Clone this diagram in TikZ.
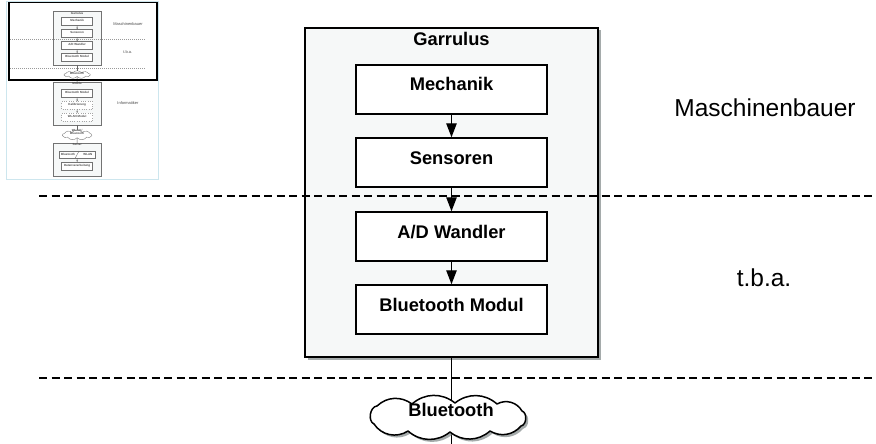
\documentclass[tikz,border=0pt]{standalone}
\usepackage{fontspec}
\setmainfont{Liberation Sans}
\usetikzlibrary{arrows.meta,shapes.symbols,shadows}
\definecolor{boxfill}{HTML}{F6F8F8}
\definecolor{shadowgray}{HTML}{7F8787}
\definecolor{thumbblue}{HTML}{CDE6EE}
\newcommand\bubblepath{(374,424) to[bend left=75] (377,406) to[bend left=40] (412,404)
  to[bend left=40] (455,403) to[bend left=40] (497,404) to[bend left=45] (522,411)
  to[bend left=75] (521,426) to[bend left=40] (490,431) to[bend left=40] (450,432)
  to[bend left=40] (408,431) to[bend left=45] (374,424) -- cycle}
\begin{document}
\begin{tikzpicture}[x=1pt,y=-1pt,
  every node/.style={font=\fontsize{18.3}{22}\selectfont\bfseries},
  outerbox/.style={draw=black, line width=1.7pt, fill=boxfill, minimum width=293pt, inner sep=0pt,
    drop shadow={shadow xshift=2.5pt, shadow yshift=-2.5pt, fill=shadowgray, opacity=0.7}},
  stepbox/.style={draw=black, line width=1.5pt, fill=white, minimum width=191pt, minimum height=49pt,
    inner sep=0pt, text height=13pt, text depth=10pt},
  arr/.style={line width=1.1pt, -{Triangle[length=14pt,width=10.5pt]}},
  conn/.style={line width=1.1pt},
  dashline/.style={line width=1.3pt, dash pattern=on 8pt off 4.5pt},
  lanelabel/.style={font=\fontsize{24.5}{28}\selectfont, anchor=base},
  bubbleline/.style={draw=black, line width=1.5pt, fill=white, line join=round},
  bubbleshadow/.style={fill=shadowgray, opacity=0.7},
  % thumbnail styles
  touter/.style={draw=black!55, line width=0.4pt, fill=boxfill, minimum width=293pt, inner sep=0pt},
  tbox/.style={draw=black!55, line width=0.35pt, fill=white, minimum width=191pt, minimum height=49pt,
    inner sep=0pt, text height=13pt, text depth=10pt, text=black!70},
  tdot/.style={tbox, draw=black!35, dotted},
  tarr/.style={line width=0.35pt, draw=black!60, -{Triangle[length=1.6pt,width=1.3pt]}},
  tconn/.style={line width=0.35pt, draw=black!60},
  tdash/.style={line width=0.35pt, draw=black!40, dash pattern=on 1pt off 1pt},
  ttext/.style={text=black!70, anchor=base},
  tlabel/.style={font=\fontsize{24.5}{28}\selectfont, text=black!70, anchor=base},
  tbubble/.style={cloud, draw=black!55, line width=0.35pt, fill=white, cloud puffs=9, cloud puff arc=100,
    aspect=3.9, minimum width=159pt, minimum height=41pt, inner sep=0pt, text=black!70, align=center,
    text height=3pt, text depth=3pt}
]
\useasboundingbox (0,0) rectangle (876,444);

% ---------------- main diagram ----------------
\node[outerbox, minimum height=329pt] (garrulus) at (451.5,192.5) {};
\node[anchor=base] (gtitle) at (451.5,46) {Garrulus};

\coordinate (d1l) at (39,196);
\coordinate (d1r) at (880,196);
\coordinate (d2l) at (39,378);
\coordinate (d2r) at (880,378);
\draw[dashline] (d1l) -- (d1r);
\draw[dashline] (d2l) -- (d2r);

\node[stepbox] (mech) at (451.5,89.5) {Mechanik};
\node[stepbox] (sens) at (451.5,162.5) {Sensoren};
\node[stepbox] (adw) at (451.5,236.5) {A/D Wandler};
\node[stepbox] (btm) at (451.5,309.5) {Bluetooth Modul};

\draw[arr] (mech) -- (sens);
\draw[arr] (sens) -- (adw);
\draw[arr] (adw) -- (btm);

% cloud with connectors
\coordinate (bc) at (451.5,418);
\coordinate (below) at (451.5,450);
\draw[conn] (garrulus.south) -- (bc) -- (below);
\fill[bubbleshadow, shift={(2.5,2.5)}] \bubblepath;
\draw[bubbleline] \bubblepath;
\node[anchor=base] (bt) at (451,416.7) {Bluetooth};

\node[lanelabel] (lmb) at (765,116.7) {Maschinenbauer};
\node[lanelabel] (ltba) at (764,286.7) {t.b.a.};

% ---------------- thumbnail ----------------
\draw[thumbblue, line width=1pt, fill=white] (6.5,1.5) rectangle (158.5,179.3);
\begin{scope}[shift={(4,7)}, scale=0.162, transform shape]
  \node[touter, minimum height=329pt] (t-garr) at (451.5,192.5) {};
  \node[ttext] (t-gtitle) at (451.5,46) {Garrulus};
  \coordinate (t-d1l) at (39,196);
  \coordinate (t-d1r) at (876,196);
  \coordinate (t-d2l) at (39,378);
  \coordinate (t-d2r) at (876,378);
  \draw[tdash] (t-d1l) -- (t-d1r);
  \draw[tdash] (t-d2l) -- (t-d2r);
  \node[tbox] (t-mech) at (451.5,89.5) {Mechanik};
  \node[tbox] (t-sens) at (451.5,162.5) {Sensoren};
  \node[tbox] (t-adw) at (451.5,236.5) {A/D Wandler};
  \node[tbox] (t-btm) at (451.5,309.5) {Bluetooth Modul};
  \draw[tarr] (t-mech) -- (t-sens);
  \draw[tarr] (t-sens) -- (t-adw);
  \draw[tarr] (t-adw) -- (t-btm);
  \node[tbubble] (t-bt) at (451.5,417.5) {Bluetooth};
  \node[tlabel] (t-lmb) at (765,116.7) {Maschinenbauer};
  \node[tlabel] (t-ltba) at (764,286.7) {t.b.a.};

  \node[touter, minimum height=265pt] (t-mobile) at (451.5,595.5) {};
  \node[ttext] (t-mtitle) at (451.5,480) {Mobile};
  \node[tbox] (t-mbt) at (451.5,534.5) {Bluetooth Modul};
  \node[tdot] (t-kal) at (451.5,607) {Kalibrierung};
  \node[tdot] (t-wlan) at (451.5,679) {WLAN Modul};
  \draw[tarr] (t-mbt) -- (t-kal);
  \draw[tarr] (t-kal) -- (t-wlan);
  \node[tlabel] (t-linf) at (765,604) {Informatiker};

  \node[tbubble, minimum width=179pt, minimum height=62pt] (t-wl) at (451.5,790) {WLAN /\\Bluetooth};

  \node[touter, minimum height=203pt] (t-server) at (451.5,941.5) {};
  \node[ttext] (t-stitle) at (451.5,858) {Server};
  \node[tbox, minimum width=222pt, minimum height=43pt] (t-split) at (451.5,910.5) {};
  \node[ttext] (t-sbt) at (395,915) {Bluetooth};
  \node[ttext] (t-swl) at (518,915) {WLAN};
  \coordinate (t-sl1) at (440,932);
  \coordinate (t-sl2) at (463,889);
  \draw[tconn] (t-sl1) -- (t-sl2);
  \node[tbox] (t-daten) at (451.5,981.5) {Datenverarbeitung};
  \draw[tarr] (t-split) -- (t-daten);

  \draw[tconn] (t-garr.south) -- (t-bt.north);
  \draw[tconn] (t-bt.south) -- (t-mobile.north);
  \draw[tconn] (t-mobile.south) -- (t-wl.north);
  \draw[tconn] (t-wl.south) -- (t-server.north);
\end{scope}
\draw[black, line width=1.2pt] (9,2.7) rectangle (157,80);
\end{tikzpicture}
\end{document}
